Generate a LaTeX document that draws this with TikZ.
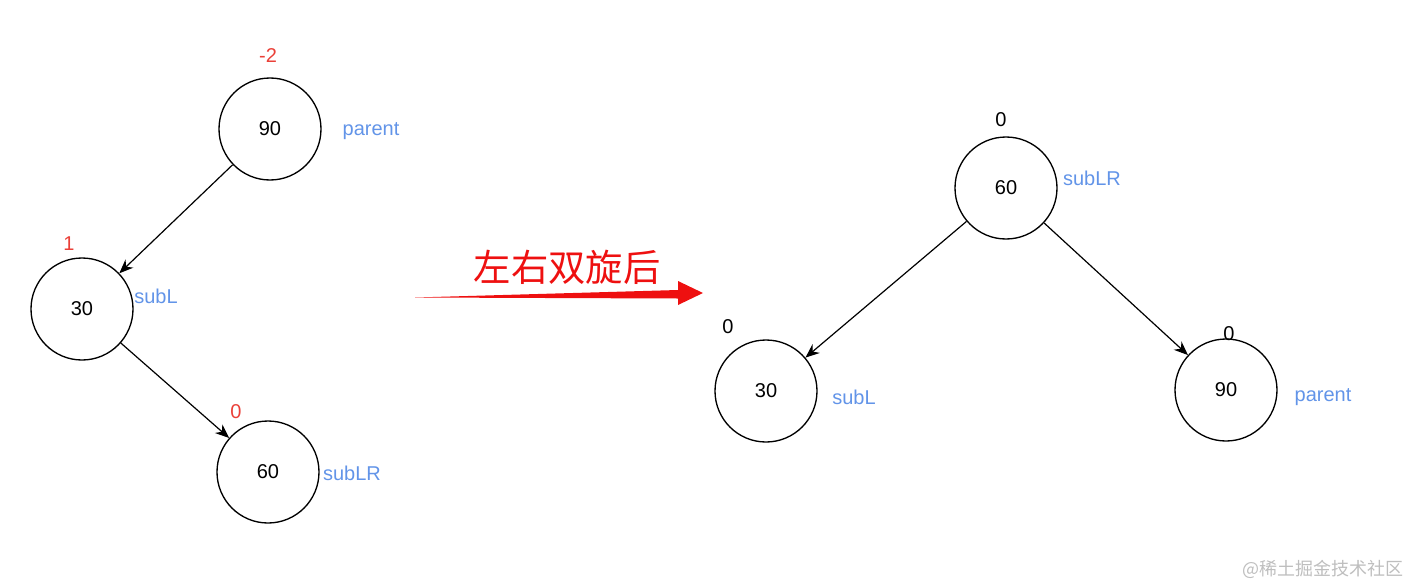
\documentclass[tikz,border=0pt]{standalone}
\usepackage{fontspec}
\setmainfont{Liberation Sans}
\newfontfamily\cjk{Noto Sans CJK SC}
\usetikzlibrary{arrows.meta}
\definecolor{balred}{RGB}{234,64,56}
\definecolor{lblblue}{RGB}{98,148,232}
\definecolor{arrred}{RGB}{238,16,16}
\definecolor{wmgray}{RGB}{190,190,190}
\tikzset{
  tnode/.style={circle,draw=black,line width=1pt,minimum size=102*0.75pt,inner sep=0pt,font=\fontsize{15pt}{18pt}\selectfont},
  bal/.style={font=\fontsize{15pt}{18pt}\selectfont,text=balred,inner sep=0pt},
  balk/.style={font=\fontsize{15pt}{18pt}\selectfont,text=black,inner sep=0pt},
  lbl/.style={font=\fontsize{15pt}{18pt}\selectfont,text=lblblue,inner sep=0pt},
  edge/.style={line width=0.9pt,-{Stealth[length=10.5pt,width=8.5pt]}}
}
\begin{document}
\begin{tikzpicture}[x=0.75pt,y=-0.75pt]
\useasboundingbox (0,0) rectangle (1411,586);
% left tree
\node[tnode] (p1) at (270,129) {90};
\node[tnode] (l1) at (82,309) {30};
\node[tnode] (r1) at (268,472) {60};
\node[bal] (bp1) at (268,56) {-2};
\node[lbl] (np1) at (371,131) {parent};
\node[bal] (bl1) at (69,244) {1};
\node[lbl] (nl1) at (156,296) {subL};
\node[bal] (br1) at (236,412) {0};
\node[lbl] (nr1) at (352,473) {subLR};
\draw[edge] (p1) -- (l1);
\draw[edge] (l1) -- (r1);
% big arrow
\fill[arrred] (415,297.5) -- (678,290) -- (678,281) -- (703,293) -- (678,305) -- (678,298.5) -- cycle;
\node[text=arrred,font=\cjk\fontsize{28pt}{32pt}\selectfont,inner sep=0pt] (cap) at (567,267) {左右双旋后};
% right tree
\node[tnode] (p2) at (1006,188) {60};
\node[tnode] (l2) at (766,391) {30};
\node[tnode] (r2) at (1226,390) {90};
\node[balk] (bp2) at (1001,120) {0};
\node[lbl] (np2) at (1092,178) {subLR};
\node[balk] (bl2) at (728,327) {0};
\node[lbl] (nl2) at (854,397) {subL};
\node[balk] (br2) at (1229,334) {0};
\node[lbl] (nr2) at (1323,397) {parent};
\draw[edge] (p2) -- (l2);
\draw[edge] (p2) -- (r2);
% watermark
\node[text=wmgray,font=\cjk\fontsize{13.5pt}{16pt}\selectfont,inner sep=0pt] (wm) at (1323,569) {@稀土掘金技术社区};
\end{tikzpicture}
\end{document}
